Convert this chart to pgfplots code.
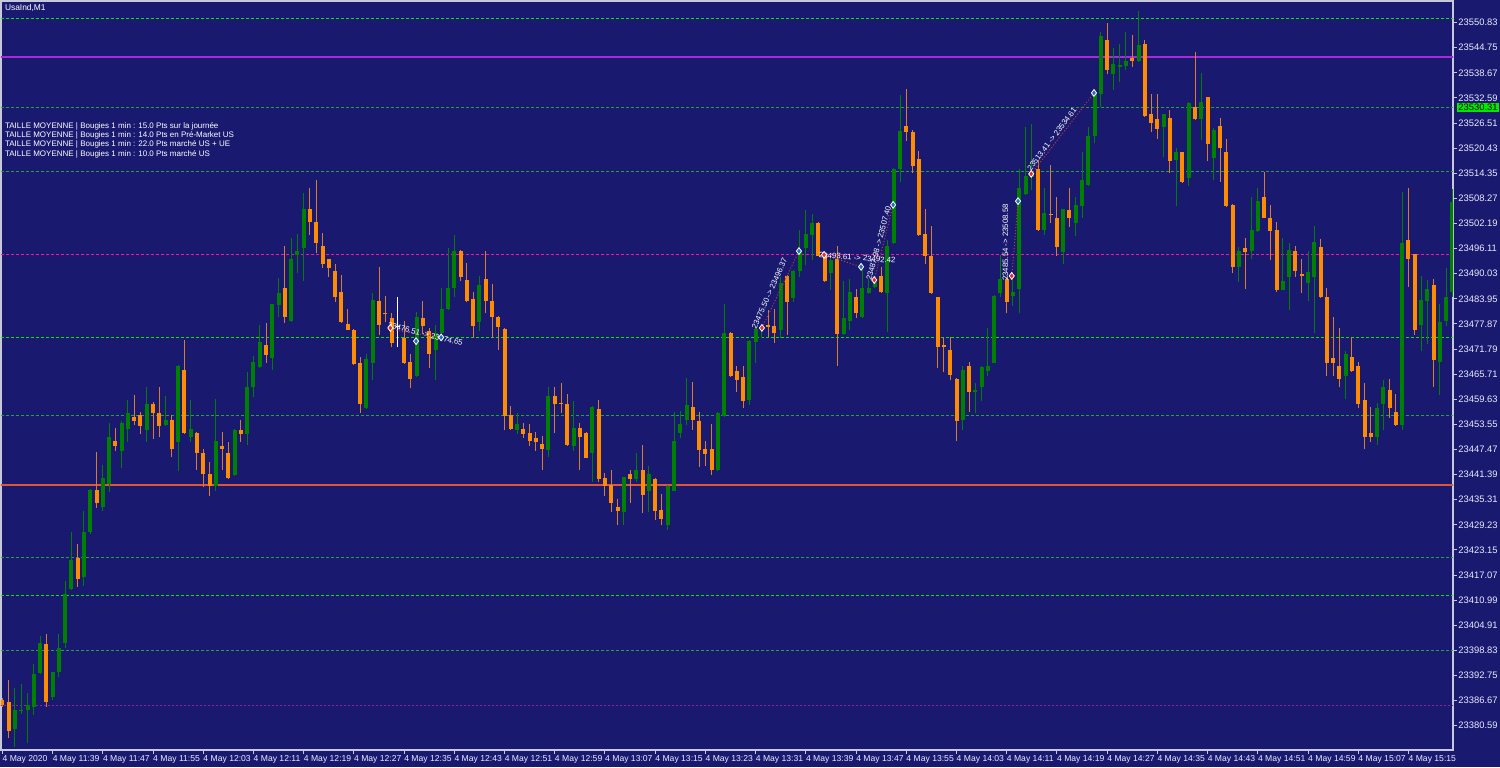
\documentclass[border=0pt]{standalone}
\usepackage{fontspec}
\setmainfont{Liberation Sans}
\usepackage{pgfplots}
\usepackage{pgfplotstable}
\pgfplotsset{compat=1.18}
\definecolor{bg}{RGB}{25,25,112}
\definecolor{bull}{RGB}{0,128,0}
\definecolor{bear}{RGB}{255,140,0}
\definecolor{bearwick}{RGB}{215,125,45}
\definecolor{framec}{RGB}{200,200,220}
\definecolor{limeg}{RGB}{0,235,0}
\definecolor{dimg}{RGB}{30,165,60}
\definecolor{pinkl}{RGB}{255,20,147}
\definecolor{purp}{RGB}{170,40,220}
\definecolor{redl}{RGB}{225,85,55}
\definecolor{purpd}{RGB}{150,30,150}
\definecolor{mkred}{RGB}{230,40,40}
\definecolor{mkblue}{RGB}{30,110,200}
\definecolor{trline}{RGB}{190,60,60}

\pgfplotsset{
  candle/.style n args={2}{draw=none, mark=none,
    error bars/.cd, y dir=plus, y explicit, error mark=none,
    error bar style={line width=#1, draw=#2, solid}},
}

\pgfplotstableread{
i o h l c
2 23379.7 23389.6 23375.5 23384.4
3 23384.2 23390.7 23383.4 23384.5
4 23384.5 23388.6 23376.3 23385.6
5 23385.2 23395.5 23383.2 23393.2
6 23393.4 23402.3 23393.2 23400.5
8 23387.6 23393.6 23386.8 23393.6
9 23393.6 23402.7 23392.4 23399.3
10 23400.5 23415.6 23399.5 23412.4
11 23413.6 23427.5 23413.5 23420.7
13 23416.5 23432.5 23414.4 23427.6
14 23427.5 23437.8 23427.1 23437.6
16 23433.6 23443.7 23432.6 23440.5
17 23439.2 23453.8 23437.2 23450.4
19 23447.1 23454.4 23443.1 23453.8
20 23452.5 23459.4 23449.3 23456.3
23 23452.3 23462.6 23449.3 23458.6
26 23453.4 23460.4 23453.2 23454.5
28 23449.3 23467.9 23442.3 23467.6
30 23450.5 23459.4 23449.3 23452.4
34 23438.6 23459.6 23437.4 23449.5
37 23441.3 23452.5 23441.1 23452.3
39 23451.3 23466.3 23448.5 23462.5
40 23462.5 23470.2 23460.2 23468.6
41 23467.5 23477.6 23467.3 23473.6
43 23469.5 23482.8 23466.6 23482.6
44 23482.4 23489.1 23479.6 23485.4
46 23478.6 23498.6 23478.4 23493.6
47 23494.5 23499.6 23490.3 23495.5
48 23496.3 23509.6 23488.3 23505.6
58 23457.4 23470.7 23457.3 23469.4
59 23468.5 23485.4 23464.3 23483.7
66 23465.3 23480.8 23465.1 23479.6
69 23471.5 23477.6 23464.3 23475.7
70 23475.6 23486.6 23475.4 23481.4
71 23481.4 23496.2 23481.2 23486.5
72 23486.5 23499.4 23484.5 23495.5
76 23478.4 23489.4 23476.1 23487.3
82 23452.2 23456.4 23451.2 23453.6
87 23447.4 23462.7 23445.6 23460.4
91 23448.3 23459.2 23447.2 23452.6
94 23446.7 23457.9 23439.7 23457.7
99 23432.4 23440.9 23429.2 23440.7
101 23440.3 23446.6 23439.5 23442.5
103 23437.5 23443.5 23432.4 23441.5
106 23429.2 23438.9 23428.0 23438.7
107 23437.5 23456.5 23437.3 23449.5
108 23451.4 23456.7 23450.3 23453.6
109 23454.6 23464.8 23453.4 23458.3
114 23442.5 23456.6 23442.3 23456.4
115 23455.6 23482.7 23455.4 23475.6
119 23459.5 23473.9 23458.3 23473.7
120 23473.6 23477.2 23468.5 23476.6
121 23476.6 23477.6 23474.4 23477.0
124 23476.5 23489.3 23474.4 23487.7
126 23484.1 23491.0 23483.3 23490.8
127 23490.7 23500.6 23489.3 23495.6
128 23496.3 23505.4 23492.1 23499.7
129 23499.4 23504.4 23493.3 23502.2
132 23490.3 23493.5 23486.2 23493.3
134 23475.4 23488.3 23475.2 23479.4
135 23478.6 23488.7 23476.4 23485.6
137 23479.5 23491.6 23479.3 23486.5
138 23485.3 23488.7 23485.1 23486.5
139 23486.7 23489.3 23486.5 23488.1
141 23485.4 23498.2 23475.8 23496.7
142 23497.5 23515.7 23497.3 23515.5
143 23515.5 23533.3 23512.3 23524.6
153 23454.6 23467.7 23452.3 23466.7
155 23461.5 23463.5 23456.4 23461.8
156 23462.5 23467.6 23459.3 23467.4
157 23466.5 23476.8 23465.2 23467.7
158 23468.5 23484.8 23468.3 23484.6
159 23485.4 23494.5 23484.5 23488.7
161 23484.7 23489.3 23482.2 23485.7
162 23486.3 23515.5 23480.4 23510.7
163 23509.3 23525.6 23509.1 23513.7
164 23513.5 23526.4 23510.3 23515.0
166 23500.5 23510.7 23499.4 23504.7
169 23495.4 23505.8 23492.5 23505.6
171 23502.4 23508.7 23499.2 23506.7
172 23506.4 23519.6 23503.4 23512.7
173 23511.5 23525.6 23511.3 23523.4
174 23523.4 23534.5 23521.6 23533.5
175 23533.5 23548.5 23530.5 23547.6
177 23538.5 23544.6 23534.5 23540.8
178 23540.2 23545.6 23536.5 23540.5
179 23540.4 23548.5 23539.4 23541.5
181 23541.5 23553.6 23541.3 23545.4
185 23525.6 23528.8 23518.2 23528.6
187 23517.6 23520.5 23506.4 23519.6
189 23513.3 23531.6 23511.3 23531.4
191 23527.4 23538.7 23522.4 23531.7
193 23518.0 23525.2 23512.6 23524.8
197 23491.7 23496.6 23488.1 23495.6
199 23495.6 23508.7 23493.5 23500.6
200 23500.4 23510.7 23500.2 23507.7
204 23486.2 23498.6 23486.0 23488.2
205 23489.3 23497.4 23481.2 23495.8
208 23487.7 23495.5 23483.5 23490.5
209 23489.3 23501.6 23475.6 23497.6
214 23465.3 23471.3 23459.6 23470.5
219 23450.6 23458.8 23448.5 23457.4
220 23458.4 23464.4 23452.2 23462.7
223 23453.4 23509.9 23452.3 23497.5
226 23477.6 23489.4 23471.4 23483.6
227 23483.5 23488.6 23473.1 23486.3
229 23468.7 23482.7 23460.6 23478.4
230 23478.6 23491.5 23477.3 23484.4
231 23485.5 23510.5 23484.5 23507.4
}\bulltab

\pgfplotstableread{
i o h l c
0 23386.8 23387.2 23385.2 23385.6
1 23386.3 23391.6 23377.5 23379.4
7 23400.3 23402.8 23385.2 23386.4
12 23421.3 23424.7 23414.2 23416.2
15 23437.6 23446.8 23433.4 23434.4
18 23449.5 23452.6 23447.1 23448.3
21 23455.4 23460.6 23453.5 23454.4
22 23455.7 23456.6 23451.2 23453.2
24 23458.4 23459.0 23450.1 23456.3
25 23456.4 23462.6 23450.4 23453.2
27 23454.5 23455.8 23445.7 23447.5
29 23466.7 23474.0 23451.3 23451.5
31 23451.5 23451.7 23442.5 23446.7
32 23446.5 23447.5 23438.3 23441.5
33 23441.5 23444.5 23436.3 23438.6
35 23448.4 23451.7 23442.5 23447.6
36 23446.7 23449.3 23440.4 23440.5
38 23452.3 23454.6 23449.3 23451.3
42 23472.8 23478.1 23468.5 23470.3
45 23486.5 23496.7 23478.1 23479.6
49 23505.6 23510.8 23499.4 23502.6
50 23502.5 23512.7 23495.1 23497.5
51 23496.7 23499.8 23491.4 23492.4
52 23493.5 23493.6 23489.3 23491.4
53 23490.7 23492.5 23483.3 23484.5
54 23485.7 23489.7 23478.1 23478.4
55 23477.8 23481.5 23476.3 23476.4
56 23476.4 23476.6 23468.0 23468.2
57 23468.5 23469.8 23456.2 23458.5
60 23483.4 23491.7 23475.2 23477.6
61 23480.4 23484.7 23478.4 23480.2
62 23479.2 23480.6 23472.2 23473.3
64 23474.4 23478.6 23468.2 23468.3
65 23468.7 23470.7 23462.3 23464.5
67 23479.4 23483.4 23475.6 23477.4
68 23476.2 23477.0 23467.1 23470.5
73 23495.5 23495.7 23488.3 23489.3
74 23488.5 23492.7 23483.1 23483.4
75 23483.8 23485.7 23474.4 23477.4
77 23488.7 23495.5 23480.4 23483.4
78 23483.4 23487.5 23474.4 23479.5
79 23479.6 23479.7 23471.5 23477.2
80 23476.6 23476.8 23452.2 23455.6
81 23455.8 23457.9 23452.2 23452.4
83 23452.4 23453.8 23450.2 23451.2
84 23451.5 23453.6 23448.3 23449.5
85 23450.3 23451.8 23447.2 23449.4
86 23448.7 23450.7 23442.4 23447.5
88 23460.4 23462.7 23451.4 23458.4
89 23458.8 23463.5 23456.4 23458.6
90 23458.5 23460.9 23448.4 23448.6
92 23452.6 23453.8 23442.4 23450.6
93 23451.5 23451.7 23445.3 23445.5
95 23457.3 23459.5 23439.5 23440.4
96 23440.5 23441.7 23436.2 23438.7
97 23438.8 23442.5 23432.4 23434.5
98 23433.5 23435.4 23429.1 23432.6
100 23441.5 23442.5 23434.6 23440.3
102 23442.4 23448.6 23432.2 23436.5
104 23440.3 23440.5 23430.3 23432.6
105 23432.8 23436.7 23429.1 23430.7
110 23457.7 23463.7 23452.2 23454.5
111 23454.4 23456.5 23443.3 23447.4
112 23447.7 23449.6 23443.5 23446.4
113 23447.7 23453.6 23441.3 23442.5
116 23475.6 23475.8 23465.1 23465.3
117 23466.5 23467.7 23461.5 23464.3
118 23464.9 23467.7 23457.5 23459.2
122 23477.6 23481.2 23474.8 23477.2
123 23477.4 23481.4 23473.3 23475.6
125 23489.5 23489.7 23475.2 23483.3
130 23502.4 23502.6 23494.2 23494.4
131 23494.3 23494.8 23488.1 23488.3
133 23493.5 23496.7 23467.7 23475.4
136 23484.5 23486.3 23479.2 23480.4
140 23489.5 23491.6 23485.3 23485.5
144 23525.8 23534.7 23522.2 23524.4
145 23524.4 23524.8 23514.3 23516.1
146 23517.7 23519.7 23499.2 23499.4
147 23499.6 23505.6 23492.4 23494.4
148 23494.3 23501.6 23485.2 23485.4
149 23484.3 23484.5 23467.3 23472.3
150 23472.8 23474.6 23466.3 23472.3
151 23471.5 23474.6 23464.4 23465.5
152 23464.5 23464.7 23449.6 23454.4
154 23467.7 23468.7 23456.6 23461.5
160 23488.7 23489.3 23480.4 23483.2
165 23515.5 23517.6 23500.4 23500.6
167 23504.5 23516.4 23502.4 23504.2
168 23503.4 23508.5 23494.2 23496.6
170 23505.5 23510.7 23501.4 23503.6
176 23546.6 23550.7 23538.5 23539.4
180 23542.3 23547.8 23540.2 23541.5
182 23545.6 23546.6 23528.0 23528.2
183 23528.7 23533.5 23524.4 23526.6
184 23527.6 23533.5 23522.6 23525.1
186 23527.7 23529.7 23514.3 23517.4
188 23519.4 23519.6 23512.1 23512.3
190 23530.5 23543.6 23527.3 23527.5
192 23532.7 23532.9 23517.2 23521.4
194 23525.8 23527.7 23512.3 23520.5
195 23519.6 23522.6 23506.2 23506.4
196 23506.7 23506.9 23490.3 23491.7
198 23496.2 23498.6 23486.3 23495.2
201 23508.7 23514.7 23503.4 23503.6
202 23503.6 23506.6 23493.3 23500.4
203 23500.6 23502.6 23485.7 23486.2
206 23495.5 23496.7 23489.3 23490.7
207 23489.9 23493.5 23485.3 23489.5
210 23496.5 23498.4 23484.2 23484.4
211 23484.3 23486.6 23465.2 23468.5
212 23469.7 23479.6 23465.2 23468.5
213 23467.7 23476.8 23462.5 23464.5
215 23469.8 23474.8 23466.2 23466.4
216 23467.8 23468.7 23457.4 23458.6
217 23459.4 23463.6 23447.5 23450.6
218 23451.5 23457.8 23449.3 23450.4
221 23461.9 23464.5 23455.2 23457.4
222 23456.6 23460.9 23453.2 23453.4
224 23498.3 23510.7 23486.7 23493.5
225 23494.7 23494.9 23475.2 23476.5
228 23487.4 23488.7 23462.7 23469.1
}\beartab

\pgfplotstableread{
i o h l c
63 23477.2 23484.5 23472.2 23477.4
}\dojitab

\begin{document}
\begin{tikzpicture}
\useasboundingbox (0,0) rectangle (750pt,-383.5pt);
\fill[bg] (0,0) rectangle (750pt,-383.5pt);
\begin{axis}[
  at={(0.5pt,-0.5pt)}, anchor=north west,
  scale only axis, width=726pt, height=374.5pt,
  xmin=-0.223, xmax=231.1, ymin=23374.7, ymax=23556.06,
  axis line style={framec, line width=0.6pt},
  axis background/.style={fill=bg},
  xtick={0,8,...,224},
  xticklabels={4 May 2020,4 May 11:39,4 May 11:47,4 May 11:55,4 May 12:03,4 May 12:11,4 May 12:19,4 May 12:27,4 May 12:35,4 May 12:43,4 May 12:51,4 May 12:59,4 May 13:07,4 May 13:15,4 May 13:23,4 May 13:31,4 May 13:39,4 May 13:47,4 May 13:55,4 May 14:03,4 May 14:11,4 May 14:19,4 May 14:27,4 May 14:35,4 May 14:43,4 May 14:51,4 May 14:59,4 May 15:07,4 May 15:15},
  ytick={23380.59,23386.67,23392.75,23398.83,23404.91,23410.99,23417.07,23423.15,23429.23,23435.31,23441.39,23447.47,23453.55,23459.63,23465.71,23471.79,23477.87,23483.95,23490.03,23496.11,23502.19,23508.27,23514.35,23520.43,23526.51,23532.59,23538.67,23544.75,23550.83},
  yticklabels={23380.59,23386.67,23392.75,23398.83,23404.91,23410.99,23417.07,23423.15,23429.23,23435.31,23441.39,23447.47,23453.55,23459.63,23465.71,23471.79,23477.87,23483.95,23490.03,23496.11,23502.19,23508.27,23514.35,23520.43,23526.51,23532.59,23538.67,23544.75,23550.83},
  xtick pos=bottom, ytick pos=right,
  tick align=outside, major tick length=2pt,
  tick style={framec, line width=0.5pt},
  ticklabel style={text=white!92!blue},
  xticklabel style={font=\fontsize{4.3}{5}\selectfont, anchor=north west, inner sep=0.5pt, xshift=-0.6pt},
  yticklabel style={font=\fontsize{4.7}{5}\selectfont, anchor=west, inner sep=0.5pt},
]
% horizontal levels
\addplot[limeg, line width=0.5pt, dash pattern=on 1.5pt off 1pt] coordinates {(-1,23551.8) (232,23551.8)};
\addplot[purp, line width=0.7pt] coordinates {(-1,23542.5) (232,23542.5)};
\addplot[dimg, line width=0.5pt, dash pattern=on 1.5pt off 1pt] coordinates {(-1,23530.31) (232,23530.31)};
\addplot[dimg, line width=0.5pt, dash pattern=on 1.5pt off 1pt] coordinates {(-1,23514.7) (232,23514.7)};
\addplot[pinkl, line width=0.5pt, dash pattern=on 1.5pt off 1pt] coordinates {(-1,23494.8) (232,23494.8)};
\addplot[limeg, line width=0.5pt, dash pattern=on 1.5pt off 1pt] coordinates {(-1,23474.5) (232,23474.5)};
\addplot[dimg, line width=0.5pt, dash pattern=on 1.5pt off 1pt] coordinates {(-1,23455.8) (232,23455.8)};
\addplot[redl, line width=0.9pt] coordinates {(-1,23438.9) (232,23438.9)};
\addplot[dimg, line width=0.5pt, dash pattern=on 1.5pt off 1pt] coordinates {(-1,23421.4) (232,23421.4)};
\addplot[limeg, line width=0.5pt, dash pattern=on 1.5pt off 1pt] coordinates {(-1,23412.0) (232,23412.0)};
\addplot[dimg, line width=0.5pt, dash pattern=on 1.5pt off 1pt] coordinates {(-1,23398.7) (232,23398.7)};
\addplot[purpd, line width=0.6pt, dash pattern=on 1pt off 1pt] coordinates {(-1,23385.4) (232,23385.4)};
% wicks
\addplot[candle={0.5pt}{bull}] table[x=i, y=l, y error plus expr=\thisrow{h}-\thisrow{l}] {\bulltab};
\addplot[candle={0.5pt}{bearwick}] table[x=i, y=l, y error plus expr=\thisrow{h}-\thisrow{l}] {\beartab};
\addplot[candle={0.5pt}{white}] table[x=i, y=l, y error plus expr=\thisrow{h}-\thisrow{l}] {\dojitab};
% bodies
\addplot[candle={2pt}{bull}] table[x=i, y=o, y error plus expr=\thisrow{c}-\thisrow{o}] {\bulltab};
\addplot[candle={2pt}{bear}] table[x=i, y=c, y error plus expr=\thisrow{o}-\thisrow{c}] {\beartab};
\addplot[candle={2pt}{white}] table[x=i, y=o, y error plus expr=\thisrow{c}-\thisrow{o}] {\dojitab};
% trades
\addplot[trline, line width=0.5pt, densely dotted] coordinates {(61.8,23476.51) (69.9,23474.65)};
\addplot[trline, line width=0.5pt, densely dotted] coordinates {(121,23476.9) (126.9,23495.5)};
\addplot[trline, line width=0.5pt, densely dotted] coordinates {(130.9,23494.6) (136.8,23491.7)};
\addplot[trline, line width=0.5pt, densely dotted] coordinates {(138.9,23488.5) (141.9,23506.7)};
\addplot[trline, line width=0.5pt, densely dotted] coordinates {(160.8,23489.5) (161.8,23507.6)};
\addplot[trline, line width=0.5pt, densely dotted] coordinates {(163.9,23514.2) (173.9,23533.8)};
\addplot[only marks, mark=diamond*, mark size=1.7pt, draw=white, fill=mkred, line width=0.4pt]
  coordinates {(61.8,23476.9) (121,23476.9) (130.9,23494.6) (138.9,23488.5) (160.8,23489.5) (163.9,23514.2)};
\addplot[only marks, mark=diamond*, mark size=1.7pt, draw=white, fill=mkblue, line width=0.4pt]
  coordinates {(65.9,23473.7) (69.9,23474.6) (126.9,23495.5) (136.8,23491.7) (141.9,23506.7) (161.8,23507.6) (173.9,23533.8)};
\begin{scope}[every node/.style={text=white, font=\fontsize{3.9}{4}\selectfont, inner sep=0pt}]
\node[rotate=-14] at (axis cs:67.4,23475.4) {23476.51 -> 23474.65};
\node[rotate=66] at (axis cs:122.2,23485.2) {23475.50 -> 23496.37};
\node[rotate=-4] at (axis cs:136.2,23493.9) {23493.61 -> 23492.42};
\node[rotate=75] at (axis cs:139.6,23497.4) {23487.98 -> 23507.40};
\node[rotate=90] at (axis cs:159.8,23497.6) {23485.54 -> 23508.58};
\node[rotate=53] at (axis cs:167.2,23522.6) {23513.41 -> 23534.61};
\end{scope}
\coordinate (lab) at (axis cs:231.1,23530.31);
\end{axis}
\node[anchor=west, fill=limeg, text=black, inner sep=0.7pt, font=\fontsize{4.7}{5}\selectfont] at ([xshift=1.8pt]lab) {23530.31};
\begin{scope}[every node/.style={text=white, anchor=west, inner sep=0pt}]
\node[font=\fontsize{4.2}{5}\selectfont] at (2.3pt,-3.8pt) {UsaInd,M1};
\node[font=\fontsize{4}{5}\selectfont] at (2.3pt,-63pt) {TAILLE MOYENNE | Bougies 1 min : 15.0 Pts sur la journée};
\node[font=\fontsize{4}{5}\selectfont] at (2.3pt,-67.7pt) {TAILLE MOYENNE | Bougies 1 min : 14.0 Pts en Pré-Market US};
\node[font=\fontsize{4}{5}\selectfont] at (2.3pt,-72.3pt) {TAILLE MOYENNE | Bougies 1 min : 22.0 Pts marché US + UE};
\node[font=\fontsize{4}{5}\selectfont] at (2.3pt,-77pt) {TAILLE MOYENNE | Bougies 1 min : 10.0 Pts marché US};
\end{scope}
\end{tikzpicture}
\end{document}
